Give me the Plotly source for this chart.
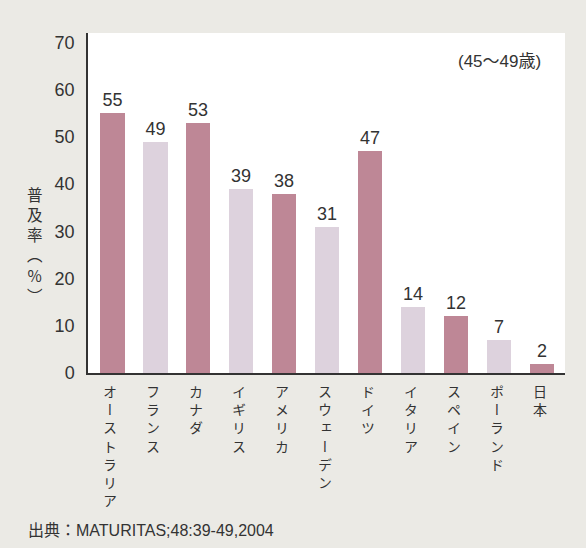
import plotly.graph_objects as go

# Data: HRT usage rate (%) among women aged 45-49, by country
countries = ["オーストラリア", "フランス", "カナダ", "イギリス", "アメリカ", "スウェーデン",
             "ドイツ", "イタリア", "スペイン", "ポーランド", "日本"]
rates = [55, 49, 53, 39, 38, 31, 47, 14, 12, 7, 2]
y_ticks = [0, 10, 20, 30, 40, 50, 60, 70]
y_title = "普及率（%）"
age_note = "(45〜49歳)"
source_note = "出典：MATURITAS;48:39-49,2004"

DARK = "#be8796"
LIGHT = "#ddd2dd"
TEXT = "#333333"
PAPER = "#ebeae5"
NUM_FONT = "Liberation Sans, Arial, Noto Sans CJK JP"
JP_FONT = "Noto Sans CJK JP"


def tategaki(s):
    """Stack a string vertically, one glyph per line."""
    return "<br>".join(s)


bar_colors = [DARK if i % 2 == 0 else LIGHT for i in range(len(countries))]
xs = list(range(len(countries)))

fig = go.Figure()
fig.add_trace(go.Bar(
    x=xs, y=rates, width=0.56,
    marker=dict(color=bar_colors, line=dict(width=0)),
    text=[str(v) for v in rates], textposition="outside",
    textfont=dict(size=18, color=TEXT, family=NUM_FONT),
    cliponaxis=False, hoverinfo="skip",
))

annotations = []
# Vertical category labels under each bar
for i, name in enumerate(countries):
    annotations.append(dict(
        x=i, xref="x", y=0, yref="y", text=tategaki(name), showarrow=False,
        xanchor="center", yanchor="top", xshift=-2, yshift=-6,
        font=dict(size=14, color=TEXT, family=JP_FONT),
    ))

# Vertical y-axis title
annotations.append(dict(
    x=0, xref="paper", xshift=-53, y=0, yref="paper", yshift=192,
    text=tategaki(y_title), showarrow=False, xanchor="center", yanchor="top",
    font=dict(size=15.5, color=TEXT, family=JP_FONT),
))
n_vertical = len(annotations)

annotations.append(dict(
    x=0.954, xref="paper", y=0.917, yref="paper", text=age_note, showarrow=False,
    xanchor="right", yanchor="middle",
    font=dict(size=17, color=TEXT, family=NUM_FONT),
))
annotations.append(dict(
    x=0, xref="paper", xshift=-62, y=0, yref="paper", yshift=-157,
    text=source_note, showarrow=False, xanchor="left", yanchor="middle",
    font=dict(size=16, color=TEXT, family=NUM_FONT),
))

fig.update_layout(
    width=586, height=548,
    margin=dict(l=88, r=21, t=33, b=175),
    paper_bgcolor=PAPER, plot_bgcolor="white",
    showlegend=False, bargap=0,
    annotations=annotations,
    xaxis=dict(
        range=[-0.57, 10.53], showticklabels=False, ticks="",
        showgrid=False, zeroline=False,
        showline=True, linecolor="#333333", linewidth=1.5,
        fixedrange=True,
    ),
    yaxis=dict(
        range=[0, 72], tickvals=y_ticks, ticks="", showgrid=False, zeroline=False,
        showline=True, linecolor="#333333", linewidth=1.5, ticklabelstandoff=8,
        tickfont=dict(size=18, color=TEXT, family=NUM_FONT),
        fixedrange=True,
    ),
)

# Use the font's vertical glyph alternates (long vowel mark, brackets,
# small kana) for the stacked labels.
vertical_glyphs_js = """
var gd = document.getElementById('{plot_id}');
gd.querySelectorAll('g.annotation').forEach(function (g) {
  var i = parseInt(g.getAttribute('data-index'), 10);
  if (i < %d) {
    g.querySelectorAll('text').forEach(function (t) {
      t.style.fontFeatureSettings = '"vert" 1';
    });
  }
});
""" % n_vertical

fig.write_html("out.html", post_script=vertical_glyphs_js)
